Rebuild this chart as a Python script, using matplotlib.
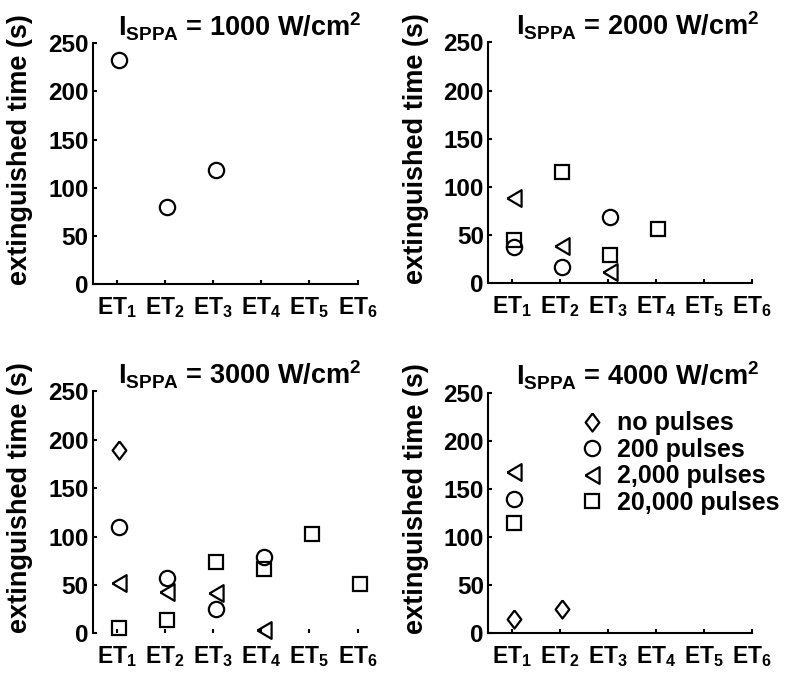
import numpy as np
import matplotlib
matplotlib.use('Agg')
import matplotlib.pyplot as plt
from matplotlib.lines import Line2D

plt.rcParams['font.family'] = ['Liberation Sans', 'DejaVu Sans']
plt.rcParams['font.weight'] = 'bold'
plt.rcParams['mathtext.fontset'] = 'custom'
plt.rcParams['mathtext.rm'] = 'Liberation Sans:bold'
plt.rcParams['mathtext.bf'] = 'Liberation Sans:bold'
plt.rcParams['mathtext.it'] = 'Liberation Sans:bold'

nan = np.nan

# event times ET1..ET6
events = [1, 2, 3, 4, 5, 6]
event_labels = [r'$\mathbf{ET_%d}$' % i for i in events]
intensities = [1000, 2000, 3000, 4000]
series_names = ['no pulses', '200 pulses', '2,000 pulses', '20,000 pulses']

# extinguished time (s) per panel, per pulse condition
p1000_none = [nan, nan, nan, nan, nan, nan]
p1000_200 = [233, 80, 119, nan, nan, nan]
p1000_2000 = [nan, nan, nan, nan, nan, nan]
p1000_20000 = [nan, nan, nan, nan, nan, nan]

p2000_none = [nan, nan, nan, nan, nan, nan]
p2000_200 = [37, 17, 69, nan, nan, nan]
p2000_2000 = [88, 38, 11, nan, nan, nan]
p2000_20000 = [45, 115, 29, 56, nan, nan]

p3000_none = [190, nan, nan, nan, nan, nan]
p3000_200 = [110, 57, 25, 79, nan, nan]
p3000_2000 = [52, 43, 42, 3, nan, nan]
p3000_20000 = [5, 14, 74, 66, 103, 51]

p4000_none = [15, 25, nan, nan, nan, nan]
p4000_200 = [140, nan, nan, nan, nan, nan]
p4000_2000 = [168, nan, nan, nan, nan, nan]
p4000_20000 = [115, nan, nan, nan, nan, nan]

panels = [
    [p1000_none, p1000_200, p1000_2000, p1000_20000],
    [p2000_none, p2000_200, p2000_2000, p2000_20000],
    [p3000_none, p3000_200, p3000_2000, p3000_20000],
    [p4000_none, p4000_200, p4000_2000, p4000_20000],
]

# MATLAB-like diamond and left triangle (a bit narrower than matplotlib's)
diamond = [(0, 1), (0.76, 0), (0, -1), (-0.76, 0), (0, 1)]
left_tri = [(-0.85, 0), (0.85, 1), (0.85, -1), (-0.85, 0)]
markers = [diamond, 'o', left_tri, 's']
msizes = [13, 11, 12, 10]

fig = plt.figure(figsize=(8, 6.85), dpi=100)
positions = [
    [0.116, 0.585, 0.331, 0.352],
    [0.610, 0.587, 0.330, 0.351],
    [0.116, 0.0755, 0.331, 0.353],
    [0.610, 0.0755, 0.330, 0.351],
]

for k, (pos, data) in enumerate(zip(positions, panels)):
    ax = fig.add_axes(pos)
    x = np.array(events) + 0.05
    for vals, m, ms in zip(data, markers, msizes):
        ax.plot(x, vals, linestyle='none', marker=m, markersize=ms,
                markerfacecolor='none', markeredgecolor='black',
                markeredgewidth=1.6, clip_on=False)
    ax.set_xlim(0.5, 6.0)
    ax.set_ylim(0, 250)
    ax.set_yticks([0, 50, 100, 150, 200, 250])
    ax.set_xticks(events)
    ax.set_xticklabels(event_labels)
    ax.spines['top'].set_visible(False)
    ax.spines['right'].set_visible(False)
    ax.spines['left'].set_linewidth(1.5)
    ax.spines['bottom'].set_linewidth(1.5)
    if k == 2:
        ax.spines['bottom'].set_visible(False)
    ax.tick_params(direction='in', length=3, width=1.5)
    ax.tick_params(axis='y', labelsize=17.5, pad=3)
    ax.tick_params(axis='x', labelsize=16.5, pad=8)
    ax.set_ylabel('extinguished time (s)', fontsize=19.5, fontweight='bold')
    ax.yaxis.set_label_coords(-0.225, 0.56)
    title_x = 0.555 if k in (0, 2) else 0.568
    ax.set_title(r'$\mathbf{I_{SPPA}}$ = %d W/cm$^{\mathbf{2}}$' % intensities[k],
                 fontsize=19.5, fontweight='bold', pad=5, x=title_x)
    if k == 3:
        handles = [Line2D([], [], linestyle='none', marker=m, markersize=ms,
                          markerfacecolor='none', markeredgecolor='black',
                          markeredgewidth=1.6)
                   for m, ms in zip(markers, msizes)]
        ax.legend(handles, series_names, loc='upper left',
                  bbox_to_anchor=(0.31, 0.965), frameon=False, fontsize=18,
                  handlelength=1.0, handletextpad=0.5, labelspacing=0.1,
                  borderaxespad=0)

fig.savefig('out.png', dpi=100)
